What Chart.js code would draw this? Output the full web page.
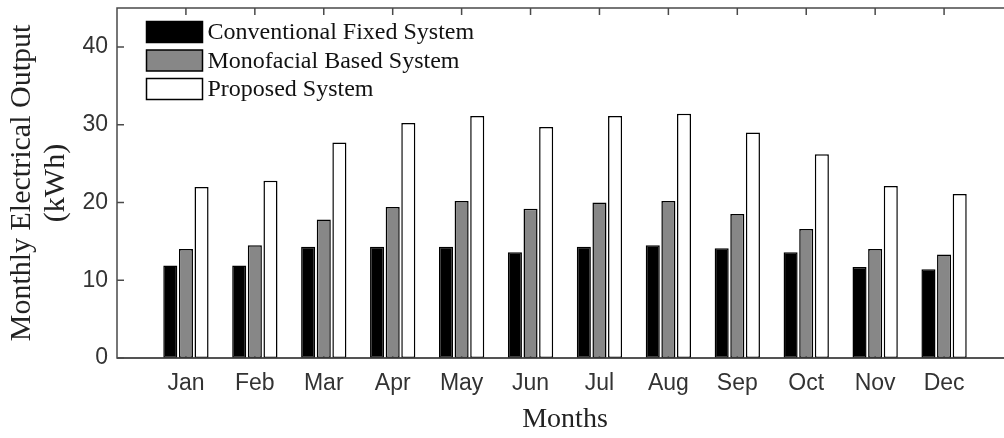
<!DOCTYPE html>
<html>
<head>
<meta charset="utf-8">
<script src="https://cdn.jsdelivr.net/npm/chart.js@4.4.1/dist/chart.umd.min.js"></script>
<style>
  html, body { margin: 0; padding: 0; background: #fff; overflow: hidden; }
  #wrap { width: 1004px; height: 438px; overflow: hidden; position: relative; }
  canvas { display: block; }
</style>
</head>
<body>
<div id="wrap"><canvas id="c" width="1020" height="438"></canvas></div>
<script>
const months = ['Jan','Feb','Mar','Apr','May','Jun','Jul','Aug','Sep','Oct','Nov','Dec'];
const conventional = [11.9, 11.9, 14.3, 14.3, 14.3, 13.6, 14.3, 14.5, 14.1, 13.6, 11.7, 11.4];
const monofacial   = [14.0, 14.5, 17.8, 19.4, 20.2, 19.2, 20.0, 20.2, 18.5, 16.6, 14.0, 13.3];
const proposed     = [22.0, 22.8, 27.7, 30.2, 31.1, 29.7, 31.1, 31.4, 29.0, 26.2, 22.1, 21.1];
const seriesNames  = ['Conventional Fixed System', 'Monofacial Based System', 'Proposed System'];
const yTicks = [0, 10, 20, 30, 40];

const fills = ['#000000', '#878787', '#ffffff'];
const toPoints = arr => arr.map((v, i) => ({ x: i + 1, y: v }));

const AXIS_COLOR = '#4a4a4a';
const TICK_LEN = 7;

const framePlugin = {
  id: 'frame',
  beforeDatasetsDraw(chart) {
    const { ctx, chartArea: a, scales } = chart;
    ctx.save();
    ctx.strokeStyle = AXIS_COLOR;
    ctx.lineWidth = 1.5;
    ctx.beginPath();
    ctx.rect(a.left, a.top, a.right - a.left, a.bottom - a.top);
    ctx.stroke();
    ctx.beginPath();
    scales.y.ticks.forEach(t => {
      const y = scales.y.getPixelForValue(t.value);
      ctx.moveTo(a.left, y); ctx.lineTo(a.left + TICK_LEN, y);
      ctx.moveTo(a.right, y); ctx.lineTo(a.right - TICK_LEN, y);
    });
    scales.x.ticks.forEach(t => {
      const x = scales.x.getPixelForValue(t.value);
      ctx.moveTo(x, a.top); ctx.lineTo(x, a.top + TICK_LEN);
      ctx.moveTo(x, a.bottom); ctx.lineTo(x, a.bottom - TICK_LEN);
    });
    ctx.stroke();
    ctx.restore();
  },
  afterDatasetsDraw(chart) {
    const { ctx, chartArea: a } = chart;
    ctx.save();
    ctx.strokeStyle = AXIS_COLOR;
    ctx.lineWidth = 1.5;
    ctx.beginPath();
    ctx.moveTo(a.left, a.bottom); ctx.lineTo(a.right, a.bottom);
    ctx.stroke();
    ctx.restore();
  }
};

const legendPlugin = {
  id: 'insideLegend',
  afterDraw(chart) {
    const { ctx } = chart;
    ctx.save();
    const x0 = 146.5, y0 = 21.5, w = 56, h = 21, step = 28.5;
    ctx.font = '24px "Liberation Serif", "Times New Roman", serif';
    ctx.textBaseline = 'middle';
    ctx.textAlign = 'left';
    chart.data.datasets.forEach((ds, i) => {
      const y = y0 + i * step;
      ctx.fillStyle = ds.backgroundColor;
      ctx.fillRect(x0, y, w, h);
      ctx.strokeStyle = '#000';
      ctx.lineWidth = 1.5;
      ctx.strokeRect(x0, y, w, h);
      ctx.fillStyle = '#111';
      ctx.fillText(ds.label, x0 + w + 5, y + h / 2 + 1);
    });
    ctx.restore();
  }
};

new Chart(document.getElementById('c'), {
  type: 'bar',
  data: {
    datasets: [conventional, monofacial, proposed].map((arr, i) => ({
      label: seriesNames[i],
      data: toPoints(arr),
      backgroundColor: fills[i],
      borderColor: '#000',
      borderWidth: 1.5,
      borderSkipped: false,
      categoryPercentage: 0.68,
      barPercentage: 0.9
    }))
  },
  options: {
    responsive: false,
    animation: false,
    devicePixelRatio: 1,
    layout: { padding: { top: 8, right: 7, left: 0, bottom: 0 } },
    plugins: { legend: { display: false }, tooltip: { enabled: false } },
    scales: {
      x: {
        type: 'linear',
        offset: false,
        min: 0,
        max: 13,
        grid: { display: false, drawTicks: false, offset: false },
        border: { display: false },
        afterBuildTicks: s => { s.ticks = months.map((m, i) => ({ value: i + 1 })); },
        afterFit: s => { s.height = 80; s.paddingLeft = 0; s.paddingRight = 0; },
        ticks: {
          autoSkip: false,
          maxRotation: 0,
          padding: 12,
          color: '#333',
          font: { family: '"Liberation Sans", Arial, sans-serif', size: 23 },
          callback: v => months[Math.round(v) - 1] || ''
        },
        title: {
          display: true,
          text: 'Months',
          color: '#222',
          font: { family: '"Liberation Serif", "Times New Roman", serif', size: 28 },
          padding: { top: 0, bottom: 2 }
        }
      },
      y: {
        min: 0,
        max: 45,
        grid: { display: false, drawTicks: false },
        border: { display: false },
        afterBuildTicks: s => { s.ticks = yTicks.map(v => ({ value: v })); },
        afterFit: s => { s.width = 117; s.paddingTop = 0; s.paddingBottom = 0; },
        ticks: {
          padding: 9,
          color: '#333',
          font: { family: '"Liberation Sans", Arial, sans-serif', size: 23 },
          callback: v => String(v)
        },
        title: {
          display: true,
          text: ['Monthly Electrical Output', '(kWh)'],
          color: '#222',
          font: { family: '"Liberation Serif", "Times New Roman", serif', size: 30, lineHeight: 1.13 },
          padding: { top: 5, bottom: 0 }
        }
      }
    }
  },
  plugins: [framePlugin, legendPlugin]
});
</script>
</body>
</html>
